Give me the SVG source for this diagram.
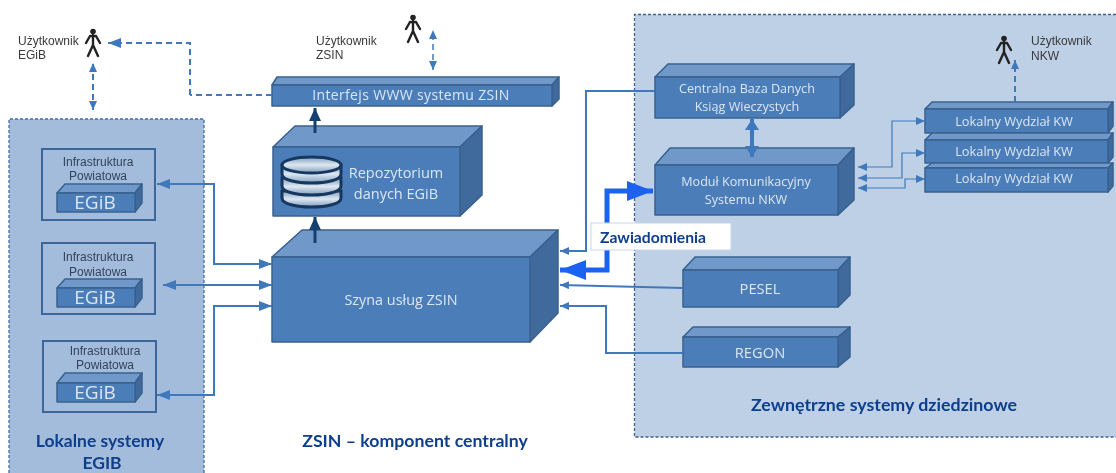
<svg xmlns="http://www.w3.org/2000/svg" width="1116" height="473" viewBox="0 0 1116 473">
<style>
.f{fill:#4b7db9;stroke:#38618f;stroke-width:1.5;stroke-linejoin:round}
.t{fill:#7098c9;stroke:#38618f;stroke-width:1.5;stroke-linejoin:round}
.s{fill:#3f6a9c;stroke:#38618f;stroke-width:1.5;stroke-linejoin:round}
.lb{font-family:"Open Sans","Liberation Sans",sans-serif;fill:#dbe6f3;text-anchor:middle}
.u{font-family:"Liberation Sans",Arial,sans-serif;font-size:12px;fill:#3a3a3a}
.i{font-family:"Liberation Sans",Arial,sans-serif;font-size:12px;fill:#33445a;text-anchor:middle}
.h{font-family:Lato,"Open Sans",sans-serif;font-weight:700;fill:#0f3f8c;text-anchor:middle}
.box{fill:none;stroke:#3a6699;stroke-width:2}
.c{fill:none;stroke:#4179bb;stroke-width:2}
.d{fill:none;stroke:#4179bb;stroke-width:2;stroke-dasharray:6 4}
.n{fill:none;stroke:#4179bb;stroke-width:1.2}
.p{fill:none;stroke:#222;stroke-width:2.4;stroke-linejoin:round;stroke-linecap:round}
</style>
<defs>
<marker id="a" markerUnits="userSpaceOnUse" markerWidth="14" markerHeight="12" refX="13" refY="6" orient="auto-start-reverse"><path d="M0 1L13 6L0 11z" fill="#4179bb"/></marker>
<marker id="as" markerUnits="userSpaceOnUse" markerWidth="10" markerHeight="10" refX="9" refY="4" orient="auto-start-reverse"><path d="M0 0L9 4L0 8z" fill="#4179bb"/></marker>
<marker id="am" markerUnits="userSpaceOnUse" markerWidth="12" markerHeight="14" refX="11" refY="7" orient="auto-start-reverse"><path d="M0 0L11 7L0 14z" fill="#4179bb"/></marker>
<marker id="ad" markerUnits="userSpaceOnUse" markerWidth="14" markerHeight="14" refX="13" refY="6" orient="auto"><path d="M0 0L13 6L0 12z" fill="#17406f"/></marker>
<marker id="ab" markerUnits="userSpaceOnUse" markerWidth="28" markerHeight="24" refX="26" refY="12" orient="auto-start-reverse"><path d="M0 2L26 12L0 22z" fill="#1f62f0"/></marker>
<linearGradient id="disk" x1="0" y1="0" x2="0" y2="1"><stop offset="0" stop-color="#7e9dbf"/><stop offset="0.5" stop-color="#dfe8f2"/><stop offset="1" stop-color="#7e9dbf"/></linearGradient>
<filter id="soft" x="0" y="0" width="100%" height="100%"><feGaussianBlur stdDeviation="0.45"/></filter>
<g id="person"><circle cx="0" cy="2.500" r="2.800" fill="#222"/><path class="p" d="M0 6V16M-7 14L-3 7H3L7 14M0 16L-5 27M0 16L5 27"/></g>
</defs>
<g filter="url(#soft)">
<rect width="1116" height="473" fill="#fff"/>
<g id="panel-left"><path d="M204 473V119H9V473" fill="#a3bcdc" stroke="#3f6ea8" stroke-width="1.3" stroke-dasharray="3 2"/></g>
<g id="panel-right"><path d="M1116 14.500H634.500V437H1116" fill="#bdd0e6" stroke="#3f6088" stroke-width="1.3" stroke-dasharray="3 2"/></g>

<g id="user-egib"><use href="#person" x="93" y="29"/><text class="u" x="18" y="45">Użytkownik</text><text class="u" x="18" y="59">EGiB</text></g>
<g id="user-zsin"><use href="#person" x="413" y="15"/><text class="u" x="316" y="45">Użytkownik</text><text class="u" x="316" y="59">ZSIN</text></g>
<g id="user-nkw"><use href="#person" x="1004" y="36"/><text class="u" x="1031" y="45">Użytkownik</text><text class="u" x="1031" y="60">NKW</text></g>

<g id="infra-1"><rect class="box" x="42" y="149" width="113" height="71"/><text class="i" x="98" y="166">Infrastruktura</text><text class="i" x="98" y="180">Powiatowa</text>
<path class="t" d="M57 193L65 184H142L135 193z"/><path class="s" d="M135 193L142 184V203L135 212z"/><rect class="f" x="57" y="193" width="78" height="19"/><text class="lb" x="95" y="209" font-size="19">EGiB</text></g>
<g id="infra-2"><rect class="box" x="42" y="243" width="113" height="71"/><text class="i" x="98" y="261">Infrastruktura</text><text class="i" x="98" y="276">Powiatowa</text>
<path class="t" d="M57 288L65 279H142L135 288z"/><path class="s" d="M135 288L142 279V298L135 307z"/><rect class="f" x="57" y="288" width="78" height="19"/><text class="lb" x="95" y="304" font-size="19">EGiB</text></g>
<g id="infra-3"><rect class="box" x="43" y="341" width="113" height="71"/><text class="i" x="105" y="355">Infrastruktura</text><text class="i" x="105" y="369">Powiatowa</text>
<path class="t" d="M57 383L65 373H142L135 383z"/><path class="s" d="M135 383L142 373V393L135 402z"/><rect class="f" x="57" y="383" width="78" height="19"/><text class="lb" x="95" y="399" font-size="19">EGiB</text></g>
<text class="h" x="100" y="447" font-size="17.500">Lokalne systemy</text>
<text class="h" x="102" y="469" font-size="17.500">EGIB</text>

<g id="interfejs"><path class="t" d="M272 85L277 77H559L552 85z"/><path class="s" d="M552 85L559 77V99L552 106z"/><rect class="f" x="272" y="85" width="280" height="21"/><text class="lb" x="411" y="100" font-size="14" letter-spacing=".35">Interfejs WWW systemu ZSIN</text></g>

<g id="repozytorium"><path class="t" d="M273 147L295 126H482L460 147z"/><path class="s" d="M460 147L482 126V195L460 216z"/><rect class="f" x="273" y="147" width="187" height="69"/>
<g stroke="#14395f" stroke-width="3" fill="url(#disk)"><path d="M282 191V198C282 210 341 210 341 198V191z"/><path d="M282 178V186C282 198 341 198 341 186V178z"/><path d="M282 165V174C282 186 341 186 341 174V165z"/><ellipse cx="311.500" cy="165" rx="29.500" ry="8"/></g>
<text class="lb" x="396" y="178" font-size="14.500">Repozytorium</text><text class="lb" x="396" y="199" font-size="14.500">danych EGiB</text></g>

<g id="szyna"><path class="t" d="M272 257L302 230H558L530 257z"/><path class="s" d="M530 257L558 230V313L530 342z"/><rect class="f" x="272" y="257" width="258" height="85"/><text class="lb" x="401" y="305" font-size="14.400">Szyna usług ZSIN</text></g>
<text class="h" x="415" y="447" font-size="17.700">ZSIN – komponent centralny</text>

<g id="baza"><path class="t" d="M655 77L668 64H854L840 77z"/><path class="s" d="M840 77L854 64V105L840 118z"/><rect class="f" x="655" y="77" width="185" height="41"/><text class="lb" x="747" y="93" font-size="12.600">Centralna Baza Danych</text><text class="lb" x="747" y="111" font-size="12.600">Ksiąg Wieczystych</text></g>
<g id="modul"><path class="t" d="M655 165L670 148H854L838 165z"/><path class="s" d="M838 165L854 148V200L838 215z"/><rect class="f" x="655" y="165" width="183" height="50"/><text class="lb" x="746" y="186" font-size="12.600">Moduł Komunikacyjny</text><text class="lb" x="746" y="204" font-size="12.600">Systemu NKW</text></g>
<g id="kw-1"><path class="t" d="M925 109L932 102H1113L1108 109z"/><path class="s" d="M1108 109L1113 102V126L1108 133z"/><rect class="f" x="925" y="109" width="183" height="24"/><text class="lb" x="1014" y="126" font-size="12.800">Lokalny Wydział KW</text></g>
<g id="kw-2"><path class="t" d="M925 140L932 133H1113L1108 140z"/><path class="s" d="M1108 140L1113 133V157L1108 163z"/><rect class="f" x="925" y="140" width="183" height="23"/><text class="lb" x="1014" y="156" font-size="12.800">Lokalny Wydział KW</text></g>
<g id="kw-3"><path class="t" d="M925 168L932 163H1113L1108 168z"/><path class="s" d="M1108 168L1113 163V186L1108 192z"/><rect class="f" x="925" y="168" width="183" height="24"/><text class="lb" x="1014" y="183" font-size="12.800">Lokalny Wydział KW</text></g>
<g id="pesel"><path class="t" d="M683 270L695 257H850L838 270z"/><path class="s" d="M838 270L850 257V295L838 307z"/><rect class="f" x="683" y="270" width="155" height="37"/><text class="lb" x="760" y="294" font-size="14.700">PESEL</text></g>
<g id="regon"><path class="t" d="M683 337L693 327H850L838 337z"/><path class="s" d="M838 337L850 327V357L838 367z"/><rect class="f" x="683" y="337" width="155" height="30"/><text class="lb" x="760" y="358" font-size="14.700">REGON</text></g>

<g id="connectors">
<path class="d" d="M93 110V63" marker-start="url(#as)" marker-end="url(#as)"/>
<path class="d" d="M190 95V43H108" marker-end="url(#a)"/>
<path class="d" d="M272 95H190"/>
<path class="d" d="M433 70V30" style="stroke-width:1.5" marker-start="url(#as)" marker-end="url(#as)"/>
<path class="d" d="M1015 102V60" marker-end="url(#as)"/>
<path class="c" d="M272 264H214V184H157" marker-start="url(#a)" marker-end="url(#a)"/>
<path class="c" d="M272 285H163" marker-start="url(#a)" marker-end="url(#a)"/>
<path class="c" d="M272 306H214V395H157" marker-start="url(#a)" marker-end="url(#a)"/>
<path d="M315 133V108" fill="none" stroke="#17406f" stroke-width="3" marker-end="url(#ad)"/>
<path d="M315 243V217" fill="none" stroke="#17406f" stroke-width="3" marker-end="url(#ad)"/>
<path class="c" d="M655 91H586V251H560" marker-end="url(#as)"/>
<path id="notify" d="M560 270H607V191H653" fill="none" stroke="#1f62f0" stroke-width="5" marker-start="url(#ab)" marker-end="url(#ab)"/>
<path class="c" d="M683 288L560 285" marker-end="url(#as)"/>
<path class="c" d="M683 353H606V306H560" marker-end="url(#as)"/>
<path d="M752 119V157" fill="none" stroke="#4179bb" stroke-width="4" marker-start="url(#am)" marker-end="url(#am)"/>
<path class="n" d="M925 121H892V167H858" marker-start="url(#as)" marker-end="url(#as)"/>
<path class="n" d="M925 153H902V178H858" marker-start="url(#as)" marker-end="url(#as)"/>
<path class="n" d="M925 179H905V188H858" marker-start="url(#as)" marker-end="url(#as)"/>
</g>

<g id="zawiadomienia"><rect x="591" y="223" width="140" height="27" fill="#fff" stroke="#c7d6e8"/><text class="h" x="653" y="243" font-size="15.700">Zawiadomienia</text></g>
<text class="h" x="884" y="411" font-size="17.800">Zewnętrzne systemy dziedzinowe</text>
</g>
</svg>
